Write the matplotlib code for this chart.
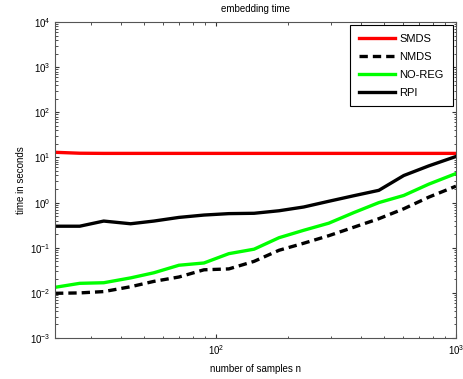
"""
Embedding time vs number of samples (log-log)
"""
import matplotlib
matplotlib.use("Agg")
import matplotlib.pyplot as plt

n_samples = [21.3, 27, 34, 44, 55, 70, 89, 113, 144, 183, 232, 295, 375, 477, 606, 770, 1000]

smds = [13.0, 12.4, 12.3, 12.3, 12.3, 12.3, 12.3, 12.3, 12.3, 12.3, 12.3, 12.3, 12.3, 12.3, 12.3, 12.3, 12.3]
nmds = [0.0098, 0.0100, 0.0107, 0.0137, 0.018, 0.0225, 0.0325, 0.034, 0.050, 0.088,
        0.126, 0.185, 0.285, 0.44, 0.73, 1.32, 2.31]
noreg = [0.0133, 0.0163, 0.0168, 0.0215, 0.0279, 0.041, 0.046, 0.074, 0.093, 0.167,
         0.244, 0.35, 0.60, 1.0, 1.44, 2.56, 4.4]
rpi = [0.30, 0.30, 0.39, 0.34, 0.39, 0.47, 0.53, 0.57, 0.58, 0.66,
       0.80, 1.07, 1.42, 1.87, 3.98, 6.5, 10.5]

plt.rcParams['font.family'] = ['Liberation Sans', 'DejaVu Sans']
plt.rcParams['mathtext.fontset'] = 'custom'
plt.rcParams['mathtext.rm'] = 'Liberation Sans'
plt.rcParams['mathtext.it'] = 'Liberation Sans'

fig = plt.figure(figsize=(4.63, 3.79), dpi=100)
ax = fig.add_axes([0.1188, 0.108, 0.866, 0.834])

ax.plot(n_samples, smds, color='#ff0000', linewidth=2.4, label='SMDS')
ax.plot(n_samples, nmds, color='black', linewidth=2.4, linestyle=(0, (2.5, 1.5)), label='NMDS')
ax.plot(n_samples, noreg, color='#00ff00', linewidth=2.4, label='NO-REG')
ax.plot(n_samples, rpi, color='black', linewidth=2.4, label='RPI')

ax.set_xscale('log')
ax.set_yscale('log')
ax.set_xlim(n_samples[0], n_samples[-1])
ax.set_ylim(1e-3, 1e4)

ax.set_title('embedding time', fontsize=7, pad=7)
ax.set_xlabel('number of samples n', fontsize=7, labelpad=5)
ax.set_ylabel('time in seconds', fontsize=7, labelpad=3)

ax.tick_params(which='both', direction='in', top=True, right=True, labelsize=7,
               color='#333333')
ax.tick_params(which='major', length=3)
ax.tick_params(which='minor', length=1.8)
for s in ax.spines.values():
    s.set_color('#555555')
    s.set_linewidth(0.8)

leg = ax.legend(loc='upper right', fontsize=8, handlelength=3.3, handletextpad=0.35,
                labelspacing=0.7, borderpad=0.8, fancybox=False, framealpha=1,
                edgecolor='black', borderaxespad=0.3)
leg.get_frame().set_linewidth(0.8)

fig.savefig('out.png', dpi=100)
